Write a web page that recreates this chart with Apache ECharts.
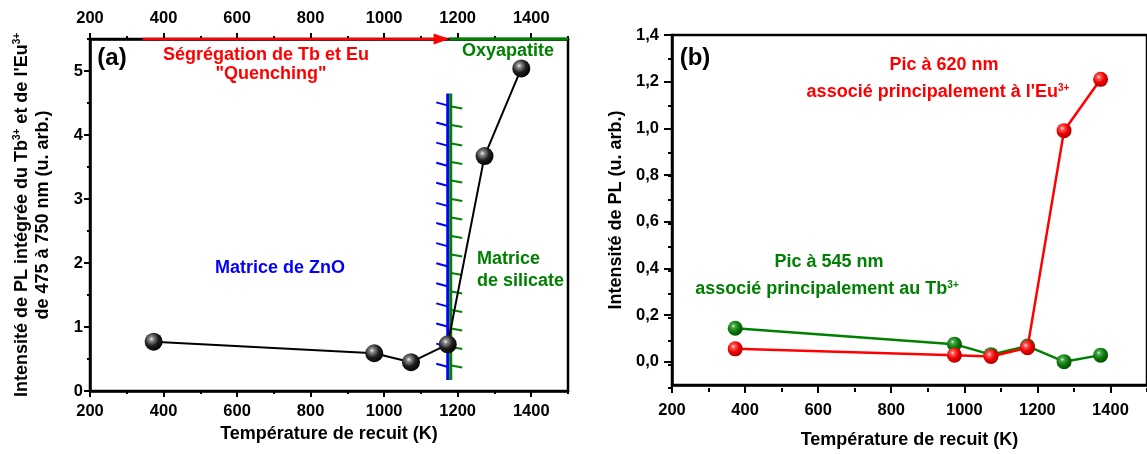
<!DOCTYPE html>
<html><head><meta charset="utf-8">
<script src="https://cdn.jsdelivr.net/npm/echarts@6/dist/echarts.min.js"></script>
<style>html,body{margin:0;padding:0;background:#fff}#c{width:1147px;height:454px}</style>
</head><body><div id="c"></div>
<script>
// ---- data ----
const temps = [373, 973, 1073, 1173, 1273, 1373];
const plIntegrated = [0.77, 0.59, 0.45, 0.73, 3.67, 5.04];
const pic620 = [0.055, 0.028, 0.022, 0.06, 0.99, 1.21];
const pic545 = [0.143, 0.075, 0.03, 0.067, 0.0, 0.028];
const xRange = [200, 1500];
const yRangeA = [0, 5.5];
const yRangeB = [-0.1, 1.4];
const boundaryT = 1177;            // ZnO / silicate boundary
const boundarySpan = [0.17, 4.65]; // vertical extent of the boundary
const segregationSpan = [343, 1178];
const oxyapatiteSpan = [1178, 1500];

const FONT = "'Liberation Sans', Arial, sans-serif";
const RED = '#ff0000', GREEN = '#008000', BLUE = '#0000ff';

function sphere(c0, c1, c2, c3) {
  return { type: 'radial', x: 0.38, y: 0.35, r: 0.7,
    colorStops: [{offset: 0, color: c0}, {offset: 0.18, color: c1}, {offset: 0.55, color: c2}, {offset: 1, color: c3}] };
}
const pairs = (xs, ys) => xs.map((x, i) => [x, ys[i]]);
const comma = v => v.toFixed(1).replace('.', ',');
const plain = v => String(Math.round(v));

const lbl = (size) => ({ color: '#000', fontFamily: FONT, fontWeight: 'bold', fontSize: size });
const supRich = { sup: { fontSize: 10, fontWeight: 'bold', fontFamily: FONT, verticalAlign: 'top', lineHeight: 12 } };

function majorX(grid, pos, opts) {
  return Object.assign({
    type: 'value', gridIndex: grid, position: pos, min: xRange[0], max: xRange[1], interval: 200,
    axisLine: { show: true, onZero: false, lineStyle: { color: '#000', width: 2.5 } },
    axisTick: { show: true, inside: false, length: 6, lineStyle: { color: '#000', width: 2 } },
    axisLabel: Object.assign(lbl(16.5), { margin: 12, showMaxLabel: false, formatter: plain }),
    splitLine: { show: false }
  }, opts || {});
}
function minorAxis(type, grid, pos, range, interval, len) {
  return {
    type: 'value', gridIndex: grid, position: pos, min: range[0], max: range[1], interval: interval,
    axisLine: { show: false, onZero: false }, axisLabel: { show: false }, splitLine: { show: false },
    axisTick: { show: true, inside: false, length: len, lineStyle: { color: '#000', width: 2 } }
  };
}

const chart = echarts.init(document.getElementById('c'), null, { renderer: 'canvas' });

const option = {
  animation: false,
  backgroundColor: '#fff',
  grid: [
    { left: 90, top: 39, width: 478, height: 352, show: true, borderColor: '#000', borderWidth: 2.5, backgroundColor: 'transparent' },
    { left: 90, top: 39, width: 478, height: 352 },
    { left: 672, top: 35, width: 479, height: 353, show: true, borderColor: '#000', borderWidth: 2.5, backgroundColor: 'transparent' },
    { left: 672, top: 35, width: 479, height: 353 }
  ],
  xAxis: [
    majorX(0, 'bottom', { name: 'Température de recuit (K)', nameLocation: 'middle', nameGap: 34,
      nameTextStyle: lbl(18) }),
    majorX(0, 'top', { axisLabel: Object.assign(lbl(16.5), { margin: 12, showMaxLabel: false, formatter: plain }) }),
    minorAxis('x', 1, 'bottom', xRange, 100, 3),
    minorAxis('x', 1, 'top', xRange, 100, 3),
    majorX(2, 'bottom', { name: 'Température de recuit (K)', nameLocation: 'middle', nameGap: 46,
      nameTextStyle: lbl(18), axisTick: { show: true, inside: false, length: 8, lineStyle: { color: '#000', width: 2 } },
      axisLabel: Object.assign(lbl(16.5), { margin: 17, showMaxLabel: false, formatter: plain }) }),
    minorAxis('x', 3, 'bottom', xRange, 100, 4)
  ],
  yAxis: [
    { type: 'value', gridIndex: 0, position: 'left', min: yRangeA[0], max: yRangeA[1], interval: 1,
      axisLine: { show: true, onZero: false, lineStyle: { color: '#000', width: 2.5 } },
      axisTick: { show: true, inside: false, length: 6, lineStyle: { color: '#000', width: 2 } },
      axisLabel: Object.assign(lbl(16.5), { margin: 7, showMaxLabel: false }),
      splitLine: { show: false },
      name: "Intensité de PL intégrée du Tb{sup|3+} et de l'Eu{sup|3+}\nde 475 à 750 nm (u. arb.)",
      nameLocation: 'middle', nameGap: 36,
      nameTextStyle: Object.assign(lbl(18), { lineHeight: 21, rich: supRich }) },
    minorAxis('y', 1, 'left', yRangeA, 0.5, 3),
    { type: 'value', gridIndex: 2, position: 'left', min: yRangeB[0], max: yRangeB[1], splitNumber: 7,
      axisLine: { show: true, onZero: false, lineStyle: { color: '#000', width: 2.5 } },
      axisTick: { show: true, inside: false, length: 8, lineStyle: { color: '#000', width: 2 } },
      axisLabel: Object.assign(lbl(16.5), { margin: 13, showMinLabel: false, formatter: comma }),
      splitLine: { show: false },
      name: 'Intensité de PL (u. arb.)', nameLocation: 'middle', nameGap: 47,
      nameTextStyle: lbl(18) },
    minorAxis('y', 3, 'left', yRangeB, 0.1, 4)
  ],
  series: [
    { type: 'custom', xAxisIndex: 0, yAxisIndex: 0, clip: false, z: 1, silent: true,
      data: [[boundaryT, boundarySpan[0], boundarySpan[1]]],
      renderItem: function (params, api) {
        const top = api.coord([api.value(0), api.value(2)]);
        const bot = api.coord([api.value(0), api.value(1)]);
        const x = top[0];
        const ch = [];
        for (let y = top[1] + 10; y < bot[1] - 6; y += 20.1) {
          ch.push({ type: 'line', shape: { x1: x - 13, y1: y - 1, x2: x - 2, y2: y + 2 },
            style: { stroke: BLUE, lineWidth: 2 } });
        }
        for (let y = top[1] + 13; y < bot[1] - 4; y += 18.5) {
          ch.push({ type: 'line', shape: { x1: x + 2, y1: y, x2: x + 13, y2: y + 2 },
            style: { stroke: GREEN, lineWidth: 2 } });
        }
        ch.push({ type: 'line', shape: { x1: x - 1.5, y1: top[1], x2: x - 1.5, y2: bot[1] }, style: { stroke: BLUE, lineWidth: 3 } });
        ch.push({ type: 'line', shape: { x1: x + 1.5, y1: top[1], x2: x + 1.5, y2: bot[1] }, style: { stroke: GREEN, lineWidth: 3 } });
        return { type: 'group', children: ch };
      } },
    { type: 'custom', xAxisIndex: 0, yAxisIndex: 0, clip: false, z: 6, silent: true,
      data: [[segregationSpan[0], segregationSpan[1], oxyapatiteSpan[1], yRangeA[1]]],
      renderItem: function (params, api) {
        const p0 = api.coord([api.value(0), api.value(3)]);
        const p1 = api.coord([api.value(1), api.value(3)]);
        const p2 = api.coord([api.value(2), api.value(3)]);
        const y = p0[1];
        return { type: 'group', children: [
          { type: 'line', shape: { x1: p1[0], y1: y, x2: p2[0], y2: y }, style: { stroke: GREEN, lineWidth: 3 } },
          { type: 'line', shape: { x1: p0[0], y1: y, x2: p1[0] - 12, y2: y }, style: { stroke: RED, lineWidth: 2.5 } },
          { type: 'polygon', shape: { points: [[p1[0], y], [p1[0] - 16, y - 5.5], [p1[0] - 16, y + 5.5]] }, style: { fill: RED } }
        ] };
      } },
    { type: 'line', xAxisIndex: 0, yAxisIndex: 0, z: 4, data: pairs(temps, plIntegrated),
      symbol: 'circle', symbolSize: 18, lineStyle: { color: '#000', width: 2 },
      itemStyle: { color: sphere('#eeeeee', '#8a8a8a', '#1e1e1e', '#000000'), borderWidth: 0 } },
    { type: 'line', xAxisIndex: 4, yAxisIndex: 2, z: 4, data: pairs(temps, pic545),
      symbol: 'circle', symbolSize: 15, lineStyle: { color: GREEN, width: 2.5 },
      itemStyle: { color: sphere('#e4f7e4', '#4aa84a', '#0a780a', '#004a00'), borderWidth: 0 } },
    { type: 'line', xAxisIndex: 4, yAxisIndex: 2, z: 5, data: pairs(temps, pic620),
      symbol: 'circle', symbolSize: 15, lineStyle: { color: RED, width: 2.5 },
      itemStyle: { color: sphere('#ffe6e6', '#ff5a5a', '#ee0000', '#a80000'), borderWidth: 0 } }
  ],
  graphic: [
    { type: 'text', x: 112, y: 58, style: { text: '(a)', fill: '#000', font: 'bold 24px ' + FONT, align: 'center', verticalAlign: 'middle' } },
    { type: 'text', x: 266, y: 55, style: { text: 'Ségrégation de Tb et Eu', fill: RED, font: 'bold 18px ' + FONT, align: 'center', verticalAlign: 'middle' } },
    { type: 'text', x: 271, y: 74, style: { text: '"Quenching"', fill: RED, font: 'bold 18px ' + FONT, align: 'center', verticalAlign: 'middle' } },
    { type: 'text', x: 508, y: 51, style: { text: 'Oxyapatite', fill: GREEN, font: 'bold 18px ' + FONT, align: 'center', verticalAlign: 'middle' } },
    { type: 'text', x: 280, y: 268, style: { text: 'Matrice de ZnO', fill: BLUE, font: 'bold 18px ' + FONT, align: 'center', verticalAlign: 'middle' } },
    { type: 'text', x: 477, y: 259, style: { text: 'Matrice', fill: GREEN, font: 'bold 18px ' + FONT, align: 'left', verticalAlign: 'middle' } },
    { type: 'text', x: 477, y: 281, style: { text: 'de silicate', fill: GREEN, font: 'bold 18px ' + FONT, align: 'left', verticalAlign: 'middle' } },
    { type: 'text', x: 695, y: 58, style: { text: '(b)', fill: '#000', font: 'bold 24px ' + FONT, align: 'center', verticalAlign: 'middle' } },
    { type: 'text', x: 944, y: 65, style: { text: 'Pic à 620 nm', fill: RED, font: 'bold 18px ' + FONT, align: 'center', verticalAlign: 'middle' } },
    { type: 'text', x: 938, y: 92, style: { text: "associé principalement à l'Eu{sup|3+}", fill: RED, font: 'bold 18px ' + FONT, align: 'center', verticalAlign: 'middle',
      rich: { sup: { fill: RED, fontSize: 10, fontWeight: 'bold', fontFamily: FONT, verticalAlign: 'top', lineHeight: 10 } } } },
    { type: 'text', x: 829, y: 262, style: { text: 'Pic à 545 nm', fill: GREEN, font: 'bold 18px ' + FONT, align: 'center', verticalAlign: 'middle' } },
    { type: 'text', x: 827, y: 289, style: { text: 'associé principalement au Tb{sup|3+}', fill: GREEN, font: 'bold 18px ' + FONT, align: 'center', verticalAlign: 'middle',
      rich: { sup: { fill: GREEN, fontSize: 10, fontWeight: 'bold', fontFamily: FONT, verticalAlign: 'top', lineHeight: 10 } } } }
  ]
};
chart.setOption(option);
</script>
</body></html>
